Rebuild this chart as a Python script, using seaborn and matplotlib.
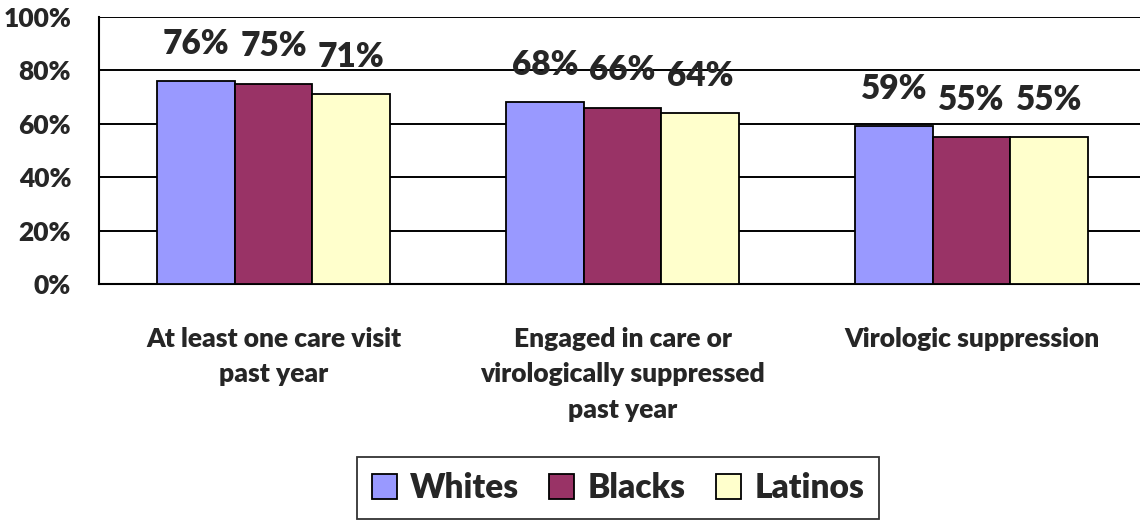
import matplotlib
matplotlib.use("Agg")
import matplotlib.pyplot as plt
import seaborn as sns
import pandas as pd

categories = [
    "At least one care visit\npast year",
    "Engaged in care or\nvirologically suppressed\npast year",
    "Virologic suppression",
]
groups = ["Whites", "Blacks", "Latinos"]
whites = [76, 68, 59]
blacks = [75, 66, 55]
latinos = [71, 64, 55]
y_ticks = [0, 20, 40, 60, 80, 100]
y_tick_labels = ["0%", "20%", "40%", "60%", "80%", "100%"]
palette = ["#9999FF", "#993366", "#FFFFCC"]

rows = []
for g, vals in zip(groups, [whites, blacks, latinos]):
    for c, v in zip(categories, vals):
        rows.append({"category": c, "group": g, "value": v})
df = pd.DataFrame(rows)

sns.set_style("white")
plt.rcParams["font.family"] = ["Lato", "DejaVu Sans"]
plt.rcParams["font.weight"] = "heavy"

fig = plt.figure(figsize=(11.4, 5.22), dpi=100)
ax = fig.add_axes([99 / 1140, 238 / 522, 1047 / 1140, 267 / 522])

sns.barplot(
    data=df, x="category", y="value", hue="group",
    order=categories, hue_order=groups, palette=palette,
    width=0.665, edgecolor="black", linewidth=1.3, saturation=1,
    ax=ax, zorder=3,
)

ax.set_xlim(-0.5, 2.5)
ax.set_ylim(0, 100)
ax.set_yticks(y_ticks)
ax.set_yticklabels(y_tick_labels, fontsize=19, fontweight="heavy")
ax.yaxis.grid(True, color="black", linewidth=1.4, zorder=0)
ax.set_axisbelow(True)
ax.set_xlabel("")
ax.set_ylabel("")

# ticks mark category boundaries; names are centred under each group
ax.set_xticks([-0.5, 0.5, 1.5, 2.5])
ax.set_xticklabels([])
ax.set_xticks([0, 1, 2], minor=True)
ax.set_xticklabels(categories, minor=True, fontsize=19, fontweight="heavy",
                   linespacing=1.57)
ax.tick_params(axis="x", which="major", length=9, width=1.3, color="black",
               direction="out")
ax.tick_params(axis="x", which="minor", length=0, pad=31)
ax.tick_params(axis="y", length=10, width=1.3, color="black", direction="out",
               pad=10)

for s in ["top", "right"]:
    ax.spines[s].set_visible(False)
for s in ["left", "bottom"]:
    ax.spines[s].set_color("black")
    ax.spines[s].set_linewidth(1.5)

# value labels above each bar
for cont in ax.containers:
    for rect in cont:
        h = rect.get_height()
        ax.annotate(f"{h:.0f}%", (rect.get_x() + rect.get_width() / 2, h),
                    xytext=(0, 27), textcoords="offset points",
                    ha="center", va="center", fontsize=24,
                    fontweight="heavy", annotation_clip=False)

handles, labels = ax.get_legend_handles_labels()
ax.get_legend().remove()
leg = fig.legend(handles, labels, loc="center", bbox_to_anchor=(618 / 1140, 34 / 522),
                 ncol=3, frameon=True, fancybox=False, edgecolor="black",
                 prop={"size": 24, "weight": "heavy"}, handlelength=0.75,
                 handleheight=0.75, handletextpad=0.4, columnspacing=0.9,
                 borderpad=0.45)
leg.get_frame().set_linewidth(1.3)

fig.savefig("out.png", dpi=100)
